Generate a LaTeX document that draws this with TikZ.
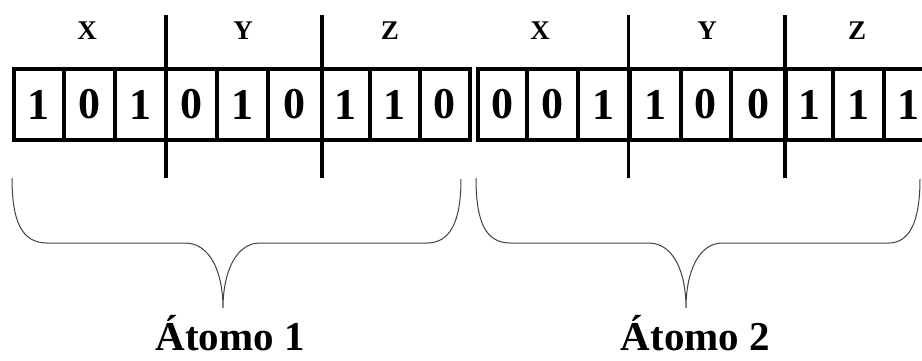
\documentclass[tikz,border=0pt]{standalone}
\usepackage{fontspec}
\setmainfont{Liberation Serif}
\tikzset{
  cell/.style={draw, line width=4pt, minimum height=71pt, inner sep=0pt,
    font=\fontsize{44}{44}\selectfont\bfseries},
  field/.style={anchor=base, font=\fontsize{27}{27}\selectfont\bfseries},
  divider/.style={line width=3.3pt},
  brace/.style={line width=1pt, black!75},
  atom/.style={anchor=base, inner sep=0pt, font=\fontsize{41}{41}\selectfont\bfseries}
}
\begin{document}
\begin{tikzpicture}[x=1pt, y=-1pt]
\clip (0,0) rectangle (922,360);
\useasboundingbox (0,0) rectangle (922,360);

% Atom 1
\begin{scope}
\node[cell, minimum width=49.5pt] (c1) at (38.75,104.5) {1};
\node[cell, minimum width=51pt] (c2) at (89,104.5) {0};
\node[cell, minimum width=51.5pt] (c3) at (140.25,104.5) {1};
\node[cell, minimum width=51pt] (c4) at (191.5,104.5) {0};
\node[cell, minimum width=50.5pt] (c5) at (242.25,104.5) {1};
\node[cell, minimum width=54.5pt] (c6) at (294.75,104.5) {0};
\node[cell, minimum width=47.5pt] (c7) at (345.75,104.5) {1};
\node[cell, minimum width=50.5pt] (c8) at (394.75,104.5) {1};
\node[cell, minimum width=49.5pt] (c9) at (444.75,104.5) {0};

\node[field] (x) at (87,39) {X};
\node[field] (y) at (243,39) {Y};
\node[field] (z) at (390,39) {Z};

\coordinate (d1t) at (166,15);
\coordinate (d1b) at (166,178);
\coordinate (d2t) at (322,15);
\coordinate (d2b) at (322,178);
\draw[divider] (d1t) -- (d1b);
\draw[divider] (d2t) -- (d2b);

\coordinate (bl) at (12,178);
\coordinate (tip) at (223,308);
\coordinate (br) at (461,179);
\draw[brace] (bl) .. controls (12,222) and (22,243) .. (47,243) -- (185,243)
  .. controls (210,243) and (223,272) .. (tip)
  .. controls (223,272) and (236,243) .. (260,243) -- (427,243)
  .. controls (450,243) and (461,222) .. (br);

\node[atom] (atom) at (230,350) {Átomo 1};
\end{scope}

% Atom 2
\begin{scope}[xshift=463.5pt]
\node[cell, minimum width=49.5pt] (c1) at (38.75,104.5) {0};
\node[cell, minimum width=51pt] (c2) at (89,104.5) {0};
\node[cell, minimum width=51.5pt] (c3) at (140.25,104.5) {1};
\node[cell, minimum width=51pt] (c4) at (191.5,104.5) {1};
\node[cell, minimum width=50.5pt] (c5) at (242.25,104.5) {0};
\node[cell, minimum width=54.5pt] (c6) at (294.75,104.5) {0};
\node[cell, minimum width=47.5pt] (c7) at (345.75,104.5) {1};
\node[cell, minimum width=50.5pt] (c8) at (394.75,104.5) {1};
\node[cell, minimum width=49.5pt] (c9) at (444.75,104.5) {1};

\node[field] (x) at (76.5,39) {X};
\node[field] (y) at (243.5,39) {Y};
\node[field] (z) at (393.5,39) {Z};

\coordinate (d1t) at (165,15);
\coordinate (d1b) at (165,178);
\coordinate (d2t) at (321.5,15);
\coordinate (d2b) at (321.5,178);
\draw[divider] (d1t) -- (d1b);
\draw[divider] (d2t) -- (d2b);

\coordinate (bl) at (12.5,178);
\coordinate (tip) at (222.5,308);
\coordinate (br) at (456.5,179);
\draw[brace] (bl) .. controls (12.5,222) and (22,243) .. (47,243) -- (185,243)
  .. controls (210,243) and (222.5,272) .. (tip)
  .. controls (222.5,272) and (235,243) .. (259,243) -- (425,243)
  .. controls (446,243) and (456.5,222) .. (br);

\node[atom] (atom) at (232,350) {Átomo 2};
\end{scope}
\end{tikzpicture}
\end{document}
